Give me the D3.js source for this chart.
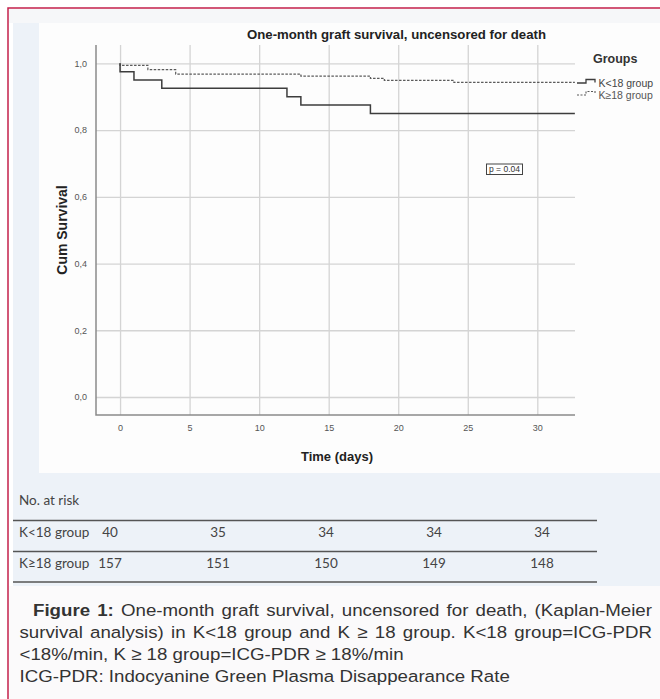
<!DOCTYPE html>
<html><head><meta charset="utf-8">
<script src="https://cdn.jsdelivr.net/npm/d3@7"></script>
<style>
html,body{margin:0;padding:0;background:#fff;}
svg{display:block;}
</style></head>
<body>
<svg id="fig" width="660" height="699"></svg>
<script>
// ---------- data ----------
const chartTitle = "One-month graft survival, uncensored for death";
const groupNames = ["K<18 group", "K≥18 group"];
// K<18 group (solid): event days and survival after each event
const lowTimes = [0, 1, 3, 12, 13, 18];
const lowSurv  = [0.975, 0.95, 0.925, 0.9, 0.875, 0.85];
// K≥18 group (dashed)
const highTimes = [0, 2, 4, 13, 18, 19, 24];
const highSurv  = [0.994, 0.981, 0.968, 0.962, 0.955, 0.949, 0.943];
const followUpEnd = 32.7;
const xTicks = [0, 5, 10, 15, 20, 25, 30];
const yTicks = [0, 0.2, 0.4, 0.6, 0.8, 1.0];
const pText = "p = 0.04";
// number at risk table
const riskTitle = "No. at risk";
const riskLow  = [40, 35, 34, 34, 34];
const riskHigh = [157, 151, 150, 149, 148];
// caption
const captionLine1 = ["Figure 1:", "One-month graft survival, uncensored for death, (Kaplan-Meier"];
const captionLine2 = "survival analysis) in K<18 group and K ≥ 18 group. K<18 group=ICG-PDR";
const captionLine3 = "<18%/min, K ≥ 18 group=ICG-PDR ≥ 18%/min";
const captionLine4 = "ICG-PDR: Indocyanine Green Plasma Disappearance Rate";

// ---------- layout ----------
const svg = d3.select("#fig");
const SANS = "'Liberation Sans', Arial, sans-serif";

// backgrounds
svg.append("rect").attr("x",9).attr("y",9).attr("width",651).attr("height",14).attr("fill","#f6f7f9");
svg.append("rect").attr("x",13).attr("y",23).attr("width",647).attr("height",563).attr("fill","#edf2f8");
svg.append("rect").attr("x",39).attr("y",23).attr("width",621).attr("height",450).attr("fill","#fdfdfd");
svg.append("rect").attr("x",9).attr("y",586).attr("width",651).attr("height",113).attr("fill","#fbfafb");
// crimson frame
svg.append("path").attr("d","M8,699 V8 H660").attr("fill","none").attr("stroke","#c4204b").attr("stroke-width",1.5);

// scales
const plotL = 96, plotR = 575, plotT = 45, plotB = 415;
const x = d3.scaleLinear().domain([-1.73, 32.71]).range([plotL, plotR]);
const y = d3.scaleLinear().domain([-0.054, 1.055]).range([plotB, plotT]);

// grid
const gGrid = svg.append("g");
gGrid.append("g").attr("transform",`translate(0,${plotB})`)
  .call(d3.axisBottom(x).tickValues(xTicks).tickSize(-(plotB-plotT)).tickFormat(""))
  .call(g=>{g.select(".domain").remove(); g.selectAll("line").attr("stroke","#d4d4d4").attr("stroke-width",1.3);});
gGrid.append("g").attr("transform",`translate(${plotL},0)`)
  .call(d3.axisLeft(y).tickValues(yTicks).tickSize(-(plotR-plotL)).tickFormat(""))
  .call(g=>{g.select(".domain").remove(); g.selectAll("line").attr("stroke","#d4d4d4").attr("stroke-width",1.3);});

// axes with labels
const fmt = v => d3.format(".1f")(v).replace(".", ",");
svg.append("g").attr("transform",`translate(0,${plotB})`)
  .call(d3.axisBottom(x).tickValues(xTicks).tickSize(0).tickPadding(10))
  .call(g=>{g.select(".domain").remove();
    g.selectAll("text").attr("font-family",SANS).attr("font-size",9).attr("fill","#555");});
svg.append("g").attr("transform",`translate(${plotL},0)`)
  .call(d3.axisLeft(y).tickValues(yTicks).tickSize(0).tickPadding(9).tickFormat(fmt))
  .call(g=>{g.select(".domain").remove();
    g.selectAll("text").attr("font-family",SANS).attr("font-size",9).attr("fill","#555");});
// axis lines
svg.append("path").attr("d",`M${plotL},${plotT} V${plotB} H${plotR}`)
  .attr("fill","none").attr("stroke","#8a8a8a").attr("stroke-width",1.5);

// survival curves
const stepLine = d3.line().x(d=>x(d[0])).y(d=>y(d[1])).curve(d3.curveStepAfter);
function curvePts(times, surv){
  const pts = [[0,1]];
  times.forEach((t,i)=>pts.push([t, surv[i]]));
  pts.push([followUpEnd, surv[surv.length-1]]);
  return pts;
}
svg.append("path").attr("d", stepLine(curvePts(highTimes, highSurv)))
  .attr("fill","none").attr("stroke","#5a5a5a").attr("stroke-width",1.2).attr("stroke-dasharray","2.5,1.5");
svg.append("path").attr("d", stepLine(curvePts(lowTimes, lowSurv)))
  .attr("fill","none").attr("stroke","#3d3d3d").attr("stroke-width",1.5);

// titles
svg.append("text").attr("x",396.5).attr("y",38.5).attr("text-anchor","middle")
  .attr("font-family",SANS).attr("font-weight","bold").attr("font-size",13.2).attr("fill","#222").text(chartTitle);
svg.append("text").attr("transform",`translate(67,${(plotT+plotB)/2}) rotate(-90)`).attr("text-anchor","middle")
  .attr("font-family",SANS).attr("font-weight","bold").attr("font-size",14).attr("fill","#222").text("Cum Survival");
svg.append("text").attr("x",337).attr("y",461).attr("text-anchor","middle")
  .attr("font-family",SANS).attr("font-weight","bold").attr("font-size",13).attr("fill","#222").text("Time (days)");

// legend
svg.append("text").attr("x",593).attr("y",63).attr("font-family",SANS).attr("font-weight","bold")
  .attr("font-size",12.5).attr("fill","#333").text("Groups");
const legY = [83, 95];
const legStyles = [{dash:null, stroke:"#3d3d3d", w:1.3}, {dash:"2,1.5", stroke:"#5a5a5a", w:1.1}];
groupNames.forEach((name,i)=>{
  const yy = legY[i];
  const p = svg.append("path").attr("d",`M577,${yy} H586 V${yy-3.5} H595 V${yy-0.5}`)
    .attr("fill","none").attr("stroke",legStyles[i].stroke).attr("stroke-width",legStyles[i].w);
  if (legStyles[i].dash) p.attr("stroke-dasharray",legStyles[i].dash);
  svg.append("text").attr("x",598.5).attr("y",yy+3.5).attr("font-family",SANS).attr("font-size",10.5)
    .attr("fill", i===0 ? "#444" : "#555").text(name);
});

// p-value box
svg.append("rect").attr("x",486.5).attr("y",164).attr("width",36).attr("height",10.5)
  .attr("fill","#fff").attr("stroke","#444").attr("stroke-width",1);
svg.append("text").attr("x",504.5).attr("y",172.3).attr("text-anchor","middle")
  .attr("font-family",SANS).attr("font-size",8.5).attr("fill","#333").text(pText);

// ---------- number at risk table ----------
const TFONT = "Lato, 'Open Sans', sans-serif";
const colX = d3.scalePoint().domain(d3.range(riskLow.length)).range([110, 542]);
svg.append("text").attr("x",19).attr("y",505).attr("font-family",TFONT).attr("font-size",13.5)
  .attr("fill","#444").text(riskTitle);
const lineYs = [520.5, 551.5, 582];
lineYs.forEach(ly=>svg.append("line").attr("x1",13).attr("x2",597).attr("y1",ly).attr("y2",ly)
  .attr("stroke","#555").attr("stroke-width",1.3));
const rows = [riskLow, riskHigh];
const rowBase = [537, 568];
rows.forEach((vals,r)=>{
  svg.append("text").attr("x",19).attr("y",rowBase[r]).attr("font-family",TFONT).attr("font-size",13.5)
    .attr("fill","#444").text(groupNames[r]);
  svg.selectAll(null).data(vals).enter().append("text")
    .attr("x",(d,i)=>colX(i)).attr("y",rowBase[r]).attr("text-anchor","middle")
    .attr("font-family",TFONT).attr("font-size",13.5).attr("fill","#444").text(d=>d);
});

// ---------- caption ----------
const CFS = 17, SX = 1.10;
const capIndent = 33, capLeft = 19.5, capRight = 652;
function capGroup(x0, yy){
  return svg.append("g").attr("transform",`translate(${x0},${yy}) scale(${SX},1)`);
}
function justify(words, x0, yy){
  const g = capGroup(x0, yy);
  const nodes = words.map(w=>g.append("text").attr("y",0).attr("font-family",SANS).attr("font-size",CFS)
      .attr("font-weight", w.b ? "bold" : "normal").attr("fill","#333").text(w.t));
  const widths = nodes.map(n=>n.node().getComputedTextLength());
  const total = d3.sum(widths);
  const avail = (capRight - x0) / SX;
  const gap = Math.max(CFS*0.2, (avail - total) / (words.length - 1));
  let cx = 0;
  nodes.forEach((n,i)=>{ n.attr("x",cx); cx += widths[i] + gap; });
}
const l1 = [];
captionLine1[0].split(" ").forEach(t=>l1.push({t, b:true}));
captionLine1[1].split(" ").forEach(t=>l1.push({t, b:false}));
justify(l1, capIndent, 616);
justify(captionLine2.split(" ").map(t=>({t, b:false})), capLeft, 637.5);
capGroup(capLeft, 659.5).append("text").attr("font-family",SANS).attr("font-size",CFS)
  .attr("fill","#333").text(captionLine3);
capGroup(capLeft, 681.5).append("text").attr("font-family",SANS).attr("font-size",CFS)
  .attr("fill","#333").text(captionLine4);
</script>
</body></html>
